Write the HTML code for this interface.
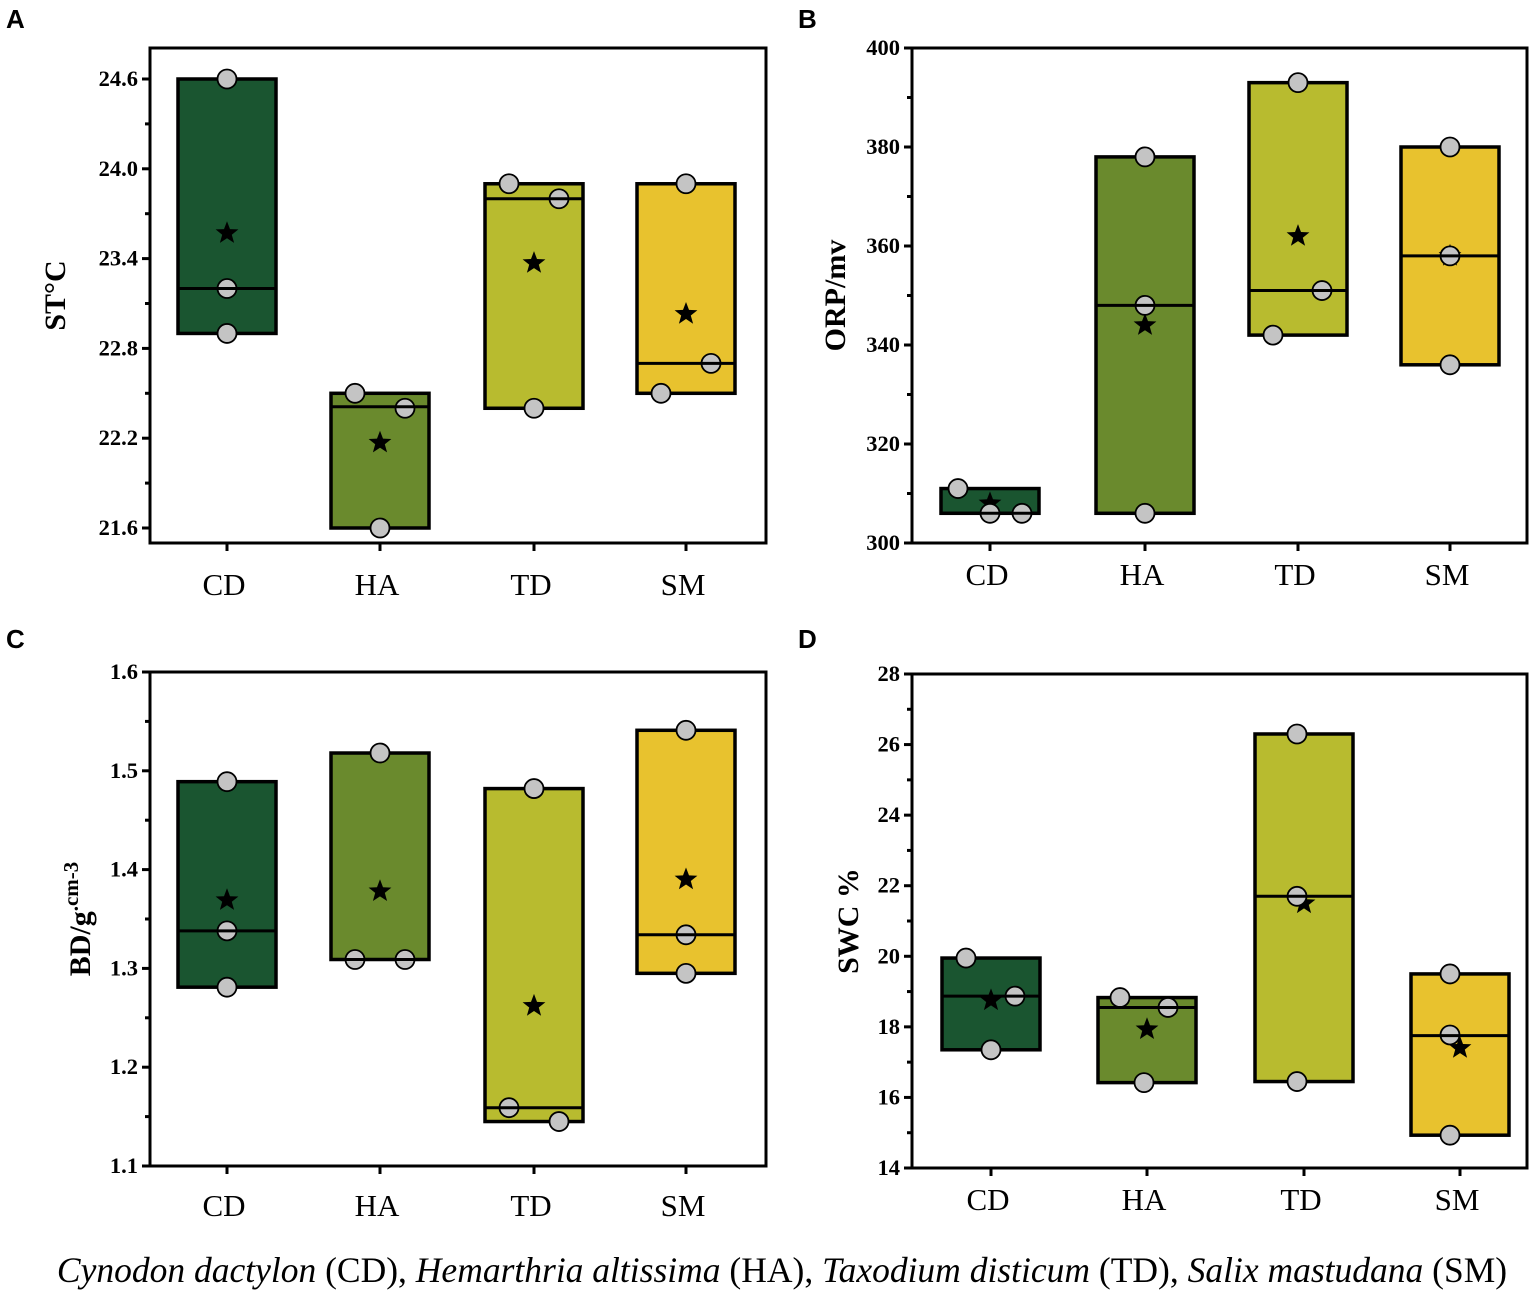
<!DOCTYPE html>
<html><head><meta charset="utf-8"><style>
body{margin:0;background:#fff;width:1535px;height:1296px;overflow:hidden}
svg{display:block}
</style></head><body>
<svg id="chart" width="1535" height="1296" xmlns="http://www.w3.org/2000/svg"></svg>
<script>
// ---- data ----
const categories = ["CD","HA","TD","SM"];
const colors = ["#1a5530","#6a8a2d","#b8bb2f","#e8c22e"];
// Panel A: ST°C
const aLow = [22.9,21.6,22.4,22.5];
const aHigh = [24.6,22.5,23.9,23.9];
const aMedian = [23.2,22.41,23.8,22.7];
const aMean = [23.57,22.17,23.37,23.03];
const aPoints = [[24.6,23.2,22.9],[22.5,22.4,21.6],[23.9,23.8,22.4],[23.9,22.7,22.5]];
const aTicks = ["21.6","22.2","22.8","23.4","24.0","24.6"];
// Panel B: ORP/mv
const bLow = [306,306,342,336];
const bHigh = [311,378,393,380];
const bMedian = [306,348,351,358];
const bMean = [308,344,362,358];
const bPoints = [[311,306,306],[378,348,306],[393,351,342],[380,358,336]];
const bTicks = ["300","320","340","360","380","400"];
// Panel C: BD
const cLow = [1.281,1.309,1.145,1.295];
const cHigh = [1.489,1.518,1.482,1.541];
const cMedian = [1.338,1.309,1.159,1.334];
const cMean = [1.369,1.378,1.262,1.390];
const cPoints = [[1.489,1.338,1.281],[1.518,1.309,1.309],[1.482,1.159,1.145],[1.541,1.334,1.295]];
const cTicks = ["1.1","1.2","1.3","1.4","1.5","1.6"];
// Panel D: SWC %
const dLow = [17.35,16.42,16.45,14.93];
const dHigh = [19.95,18.83,26.3,19.5];
const dMedian = [18.87,18.55,21.7,17.75];
const dMean = [18.75,17.93,21.5,17.4];
const dPoints = [[19.95,18.87,17.35],[18.83,18.55,16.42],[26.3,21.7,16.45],[19.5,17.77,14.93]];
const dTicks = ["14","16","18","20","22","24","26","28"];

// ---- drawing ----
const NS="http://www.w3.org/2000/svg";
const svg=document.getElementById('chart');
function mk(tag,attrs,parent,txt){const e=document.createElementNS(NS,tag);for(const k in attrs)e.setAttribute(k,attrs[k]);if(txt!==undefined)e.textContent=txt;(parent||svg).appendChild(e);return e;}
function star(cx,cy,r){let p=[];for(let i=0;i<10;i++){const a=-Math.PI/2+i*Math.PI/5;const rr=i%2?r*0.42:r;p.push((cx+rr*Math.cos(a)).toFixed(1)+","+(cy+rr*Math.sin(a)).toFixed(1));}return p.join(" ");}

function panel(o){
  const g=mk('g',{});
  
  
  const tmin=+o.ticks[0], tmax=+o.ticks[o.ticks.length-1];
  const y=v=>o.tB-(v-tmin)/(tmax-tmin)*(o.tB-o.tT);
  const xs=o.xs;
  categories.forEach((c,i)=>{
    const cx=xs[i];
    const b=mk('rect',{x:cx-49,y:y(o.high[i]),width:98,height:y(o.low[i])-y(o.high[i]),fill:colors[i],stroke:'#000','stroke-width':3.5},g);
    
    
    const s=mk('polygon',{points:star(cx,y(o.mean[i]),12),fill:'#000'},g);
    
    
    o.points[i].forEach((v,j)=>{
      const pc=mk('circle',{cx:cx+o.off[i][j],cy:y(v),r:9.5,fill:'#c4c4c4',stroke:'#000','stroke-width':1.8},g);
      
      
    });
    const m=mk('line',{x1:cx-49,x2:cx+49,y1:y(o.median[i]),y2:y(o.median[i]),stroke:'#000','stroke-width':3},g);
    
    
  });
  const f=mk('rect',{x:o.xL,y:o.yT,width:o.xR-o.xL,height:o.yB-o.yT,fill:'none',stroke:'#000','stroke-width':3},g);
  
  
  o.ticks.forEach((t,i)=>{
    const yy=y(+t);
    mk('line',{x1:o.xL-8,x2:o.xL,y1:yy,y2:yy,stroke:'#000','stroke-width':3},g);
    if(i<o.ticks.length-1){const ym=(yy+y(+o.ticks[i+1]))/2;mk('line',{x1:o.xL-5,x2:o.xL,y1:ym,y2:ym,stroke:'#000','stroke-width':3},g);}
    const tl=mk('text',{x:o.xL-12,y:yy+7,'text-anchor':'end','font-family':'Liberation Serif, serif','font-weight':'bold','font-size':22.5},g,t);
    
    
  });
  categories.forEach((c,i)=>{
    mk('line',{x1:xs[i],x2:xs[i],y1:o.yB,y2:o.yB+8,stroke:'#000','stroke-width':3},g);
    const xl=mk('text',{x:xs[i]-3,y:o.yB+o.labOff,'text-anchor':'middle','font-family':'Liberation Serif, serif','font-size':31},g,c);
    
    
  });
  const yt=mk('text',{transform:`translate(${o.titleX},${(o.yT+o.yB)/2}) rotate(-90)`,'text-anchor':'middle','font-family':'Liberation Serif, serif','font-weight':'bold','font-size':30},g);
  yt.innerHTML=o.title;
  
  
  const pl=mk('text',{x:o.letterX,y:o.letterY,'font-family':'Liberation Sans, sans-serif','font-weight':'bold','font-size':26},g,o.letter);
  
  
}
panel({name:'panel-a-st',xL:150,xR:766,yT:48,yB:543,tT:79,tB:528,ticks:aTicks,low:aLow,high:aHigh,median:aMedian,mean:aMean,points:aPoints,labOff:52,
  xs:[227,380,534,686],off:[[0,0,0],[-25,25,0],[-25,25,0],[0,25,-25]],title:'ST°C',titleX:65,letter:'A',letterX:6,letterY:28});
panel({name:'panel-b-orp',xL:912,xR:1527,yT:48,yB:543,tT:48,tB:543,ticks:bTicks,low:bLow,high:bHigh,median:bMedian,mean:bMean,points:bPoints,labOff:42,
  xs:[990,1145,1298,1450],off:[[-32,0,32],[0,0,0],[0,24,-25],[0,0,0]],title:'ORP/mv',titleX:845,letter:'B',letterX:798,letterY:28});
panel({name:'panel-c-bd',xL:150,xR:766,yT:672,yB:1166,tT:672,tB:1166,ticks:cTicks,low:cLow,high:cHigh,median:cMedian,mean:cMean,points:cPoints,labOff:50,
  xs:[227,380,534,686],off:[[0,0,0],[0,-25,25],[0,-25,25],[0,0,0]],title:'BD/g<tspan font-size="21" dy="-12">.cm-3</tspan>',titleX:90,letter:'C',letterX:6,letterY:648});
panel({name:'panel-d-swc',xL:912,xR:1527,yT:674,yB:1168,tT:674,tB:1168,ticks:dTicks,low:dLow,high:dHigh,median:dMedian,mean:dMean,points:dPoints,labOff:42,
  xs:[991,1147,1304,1460],off:[[-25,24,0],[-27,21,-3],[-7,-7,-7],[-10,-10,-10]],title:'SWC %',titleX:858,letter:'D',letterX:798,letterY:648});
const cap=mk('text',{x:782,y:1282,'text-anchor':'middle','font-family':'Liberation Serif, serif','font-size':35.5});
cap.innerHTML='<tspan font-style="italic">Cynodon dactylon</tspan> (CD), <tspan font-style="italic">Hemarthria altissima</tspan> (HA), <tspan font-style="italic">Taxodium disticum</tspan> (TD), <tspan font-style="italic">Salix mastudana</tspan> (SM)';


</script>
</body></html>
